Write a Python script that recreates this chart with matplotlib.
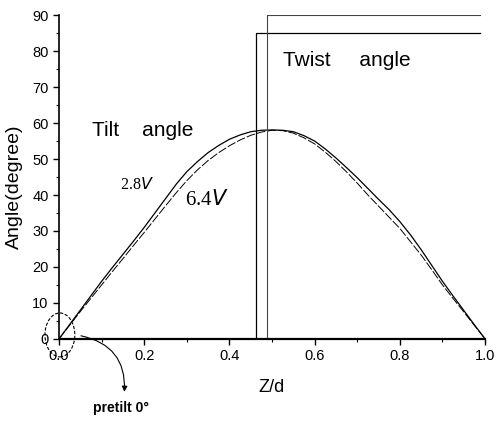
import matplotlib
matplotlib.use("Agg")
import matplotlib.pyplot as plt
from matplotlib.patches import Ellipse

plt.rcParams['font.family'] = ['Liberation Sans', 'DejaVu Sans']

z = [0.0, 0.025, 0.05, 0.075, 0.1, 0.125, 0.15, 0.175, 0.2, 0.225, 0.25,
     0.275, 0.3, 0.325, 0.35, 0.375, 0.4, 0.425, 0.45, 0.475, 0.5,
     0.525, 0.55, 0.575, 0.6, 0.625, 0.65, 0.675, 0.7, 0.725, 0.75,
     0.775, 0.8, 0.825, 0.85, 0.875, 0.9, 0.925, 0.95, 0.975, 1.0]
tilt_28 = [0.0, 4.0, 8.0, 12.0, 16.0, 19.8, 23.5, 27.2, 31.0, 35.0, 39.0,
           43.0, 46.5, 49.3, 51.8, 53.8, 55.5, 56.7, 57.6, 58.0, 58.1,
           58.0, 57.6, 56.5, 55.0, 52.8, 50.3, 47.6, 44.8, 41.8, 38.8,
           35.9, 32.6, 28.9, 24.8, 20.4, 16.0, 11.9, 7.9, 3.9, 0.0]
tilt_64 = [0.0, 3.8, 7.6, 11.3, 15.0, 18.7, 22.3, 26.0, 29.6, 33.3, 37.0,
           40.6, 44.0, 47.0, 49.6, 51.8, 53.7, 55.3, 56.6, 57.5, 58.0,
           57.9, 57.2, 55.9, 54.2, 51.9, 49.3, 46.4, 43.3, 40.0, 36.9,
           33.8, 30.7, 27.0, 23.3, 19.2, 15.0, 11.2, 7.5, 3.7, 0.0]
twist_28_x = [0.462, 0.462, 0.988]
twist_28_y = [0, 85, 85]
twist_64_x = [0.487, 0.487, 0.988]
twist_64_y = [0, 90, 90]
xticks = [0.0, 0.2, 0.4, 0.6, 0.8, 1.0]
yticks = [0, 10, 20, 30, 40, 50, 60, 70, 80, 90]

fig = plt.figure(figsize=(4.96, 4.22), dpi=100)
ax = fig.add_axes([0.119, 0.197, 0.859, 0.767])

ax.plot(z, tilt_28, color='black', lw=0.9)
ax.plot(z, tilt_64, color='black', lw=0.7, dashes=(9, 2))
ax.plot(twist_28_x, twist_28_y, color='black', lw=0.9)
ax.plot(twist_64_x, twist_64_y, color='#444444', lw=0.8)

ax.set_xlim(0, 1.0)
ax.set_ylim(0, 90)
ax.set_xticks(xticks)
ax.set_xticklabels([f"{v:.1f}" for v in xticks])
ax.set_yticks(yticks)
ax.set_xticks([0.1, 0.3, 0.5, 0.7, 0.9], minor=True)
ax.set_yticks([5, 15, 25, 35, 45, 55, 65, 75, 85], minor=True)
ax.spines['top'].set_visible(False)
ax.spines['right'].set_visible(False)
ax.spines['left'].set_linewidth(1.2)
ax.spines['bottom'].set_linewidth(1.6)
ax.tick_params(which='major', length=4, width=1, labelsize=10.5, colors='black')
ax.tick_params(which='minor', length=2.5, width=0.8)
ax.set_xlabel('Z/d', fontsize=13)
ax.set_ylabel('Angle(degree)', fontsize=14)
ax.xaxis.set_label_coords(0.498, -0.123)
ax.yaxis.set_label_coords(-0.085, 0.469)

ax.text(0.077, 58, 'Tilt    angle', fontsize=15, va='center', ha='left')
ax.text(0.526, 77.5, 'Twist     angle', fontsize=15, va='center', ha='left')
ax.text(0.143, 42.8, '2.8$\\mathit{V}$', fontsize=11.5, family='Liberation Serif',
        va='center', ha='left')
ax.text(0.296, 38.6, '6.4$\\mathit{V}$', fontsize=15, family='Liberation Serif',
        va='center', ha='left')

ell = Ellipse((0.002, 1.1), 0.07, 12.2, fill=False, ls=(0, (3, 1.5)), lw=0.8,
              color='black', clip_on=False)
ax.add_patch(ell)
ax.annotate('', xy=(0.153, -15.5), xytext=(0.045, 1.0),
            arrowprops=dict(arrowstyle='-|>', color='black', lw=0.8,
                            connectionstyle='arc3,rad=-0.45', mutation_scale=8),
            annotation_clip=False)
ax.text(0.08, -19.3, 'pretilt 0°', fontsize=10, fontweight='bold',
        va='center', ha='left', clip_on=False)

fig.savefig('out.png', dpi=100)
